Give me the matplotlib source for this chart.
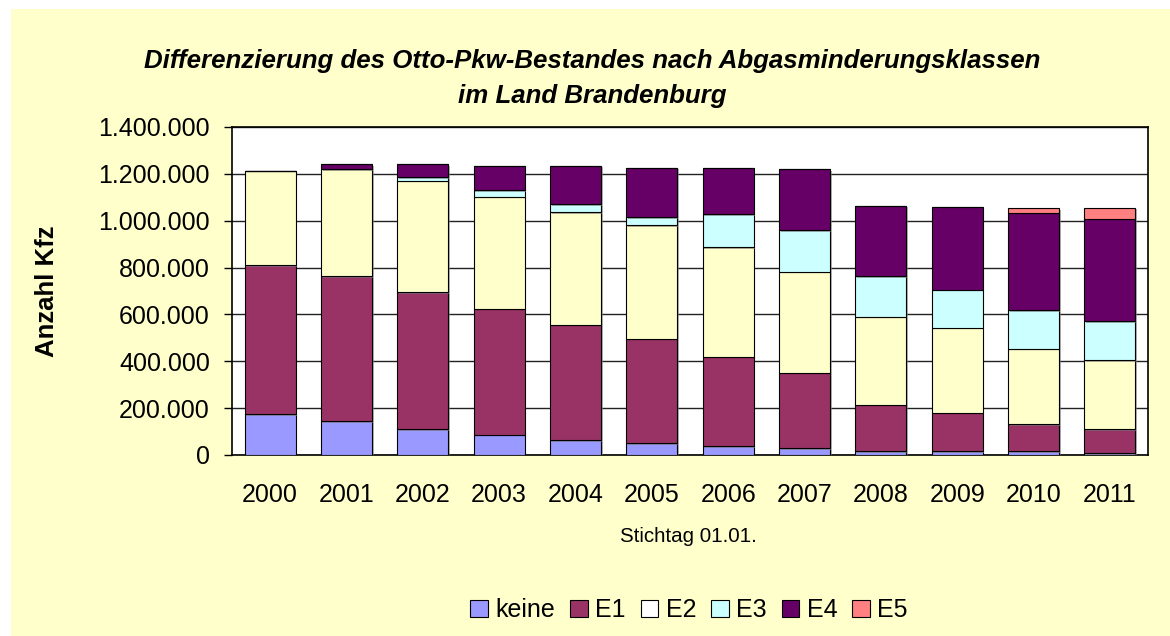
import matplotlib
matplotlib.use("Agg")
import matplotlib.pyplot as plt
from matplotlib.patches import Rectangle, Patch
from matplotlib.ticker import FuncFormatter
import matplotlib.patheffects as pe
import numpy as np

plt.rcParams["font.family"] = ["Liberation Sans", "DejaVu Sans"]

# ---- data (vehicles per class) ----
years = ["2000", "2001", "2002", "2003", "2004", "2005",
         "2006", "2007", "2008", "2009", "2010", "2011"]
keine = [174000, 145000, 111000, 87000, 64000, 51000, 37000, 30000, 15000, 15000, 15000, 8500]
e1 = [636000, 618000, 583000, 538000, 493000, 445000, 383000, 322000, 200000, 166000, 117500, 102500]
e2 = [403000, 456000, 477000, 477500, 478500, 485000, 466000, 430000, 376000, 363000, 321500, 295000]
e3 = [0, 3000, 15000, 28500, 34500, 33000, 141000, 178000, 171000, 162000, 163000, 164000]
e4 = [0, 20000, 56000, 104000, 165000, 212500, 199500, 260500, 302000, 351000, 417000, 438500]
e5 = [0, 0, 0, 0, 0, 0, 0, 0, 0, 0, 20000, 47000]

series = [("keine", keine, "#9999FF"),
          ("E1", e1, "#993366"),
          ("E2", e2, "#FFFFCC"),
          ("E3", e3, "#CCFFFF"),
          ("E4", e4, "#660066"),
          ("E5", e5, "#FF8080")]

BG = "#FFFFCC"

fig = plt.figure(figsize=(11.7, 6.36), dpi=100)
fig.patch.set_facecolor("white")
# yellow chart area (leaves a thin white margin top/left like the original)
fig.patches.append(Rectangle((11 / 1170, 0), 1 - 11 / 1170, 1 - 9 / 636,
                             transform=fig.transFigure, facecolor=BG,
                             edgecolor="none", zorder=-10))

ax = fig.add_axes([232 / 1170, 1 - 455 / 636, (1148 - 232) / 1170, (455 - 127) / 636])
ax.set_facecolor("white")

# light Excel-style drop shadow on the bars
shadow = [pe.SimplePatchShadow(offset=(1.2, -1.2), shadow_rgbFace="#808080", alpha=0.6),
          pe.Normal()]

x = np.arange(len(years))
bottom = np.zeros(len(years))
for name, vals, col in series:
    vals = np.array(vals, dtype=float)
    bars = ax.bar(x, vals, width=0.67, bottom=bottom, color=col, edgecolor="black",
                  linewidth=0.8, zorder=3)
    for b in bars:
        if b.get_height() > 0:
            b.set_path_effects(shadow)
    bottom += vals

ax.set_xlim(-0.5, len(years) - 0.5)
ax.set_ylim(0, 1400000)
ax.set_yticks(np.arange(0, 1400001, 200000))
ax.yaxis.set_major_formatter(FuncFormatter(lambda v, p: f"{int(v):,}".replace(",", ".")))
ax.set_xticks(x)
ax.set_xticklabels(years)
ax.tick_params(axis="x", length=0, labelsize=18, pad=20)
ax.tick_params(axis="y", direction="out", length=6, width=1, labelsize=18, pad=10)
ax.grid(axis="y", color="#222222", linewidth=1, zorder=0)
for s in ax.spines.values():
    s.set_color("black")
    s.set_linewidth(1.2)

ax.set_ylabel("Anzahl Kfz", fontsize=18.5, fontweight="bold", labelpad=28)

fig.text(592 / 1170, 1 - 61 / 636,
         "Differenzierung des Otto-Pkw-Bestandes nach Abgasminderungsklassen",
         ha="center", va="center", fontsize=18.6, fontweight="bold", style="italic")
fig.text(592 / 1170, 1 - 96 / 636, "im Land Brandenburg",
         ha="center", va="center", fontsize=18.6, fontweight="bold", style="italic")

fig.text(688 / 1170, 1 - 537 / 636, "Stichtag 01.01.", ha="center", va="center",
         fontsize=14.8)

handles = [Patch(facecolor=c if n != "E2" else "white", edgecolor="black", linewidth=0.8)
           for n, _, c in series]
fig.legend(handles, [n for n, _, _ in series], loc="center",
           bbox_to_anchor=(689 / 1170, 1 - 610 / 636), ncol=6, frameon=False,
           fontsize=18, handlelength=0.7, handleheight=0.7, handletextpad=0.3,
           columnspacing=0.6, borderpad=0)

fig.savefig("out.png", dpi=100, facecolor="white")
